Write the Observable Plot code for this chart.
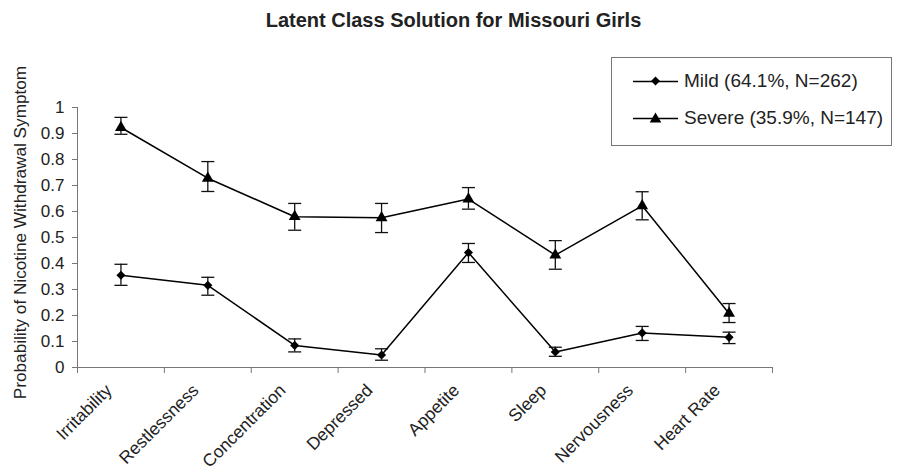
<!DOCTYPE html>
<html>
<head>
<meta charset="utf-8">
<script src="https://cdn.jsdelivr.net/npm/d3@7"></script>
<script src="https://cdn.jsdelivr.net/npm/@observablehq/plot@0.6"></script>
<style>
  html, body { margin: 0; padding: 0; background: #fff; }
  body { font-family: "Liberation Sans", Arial, sans-serif; color: #222; }
  #wrap { position: relative; width: 897px; height: 475px; overflow: hidden; }
  #title { position: absolute; left: 0; top: 10px; width: 907px; text-align: center; font-weight: bold; font-size: 20px; line-height: 20px; color: #222; }
  #chart { position: absolute; left: 0; top: 0; }
  #legend { position: absolute; left: 611px; top: 57px; width: 281px; height: 89px; border: 1px solid #777; box-sizing: border-box; background: #fff; }
  .item { position: absolute; left: 21px; height: 24px; display: flex; align-items: center; font-size: 19px; white-space: nowrap; color: #222; }
  .item svg { margin-right: 5px; }
  #chart svg g[aria-label="x-axis tick"] path, #chart svg g[aria-label="y-axis tick"] path { stroke: #777; }
</style>
</head>
<body>
<div id="wrap">
  <div id="chart"></div>
  <div id="title"></div>
  <div id="legend"></div>
</div>
<script>
const titleText = "Latent Class Solution for Missouri Girls";
const yLabel = "Probability of Nicotine Withdrawal Symptom";
const categories = ["Irritability", "Restlessness", "Concentration", "Depressed", "Appetite", "Sleep", "Nervousness", "Heart Rate"];
const seriesNames = ["Mild (64.1%, N=262)", "Severe (35.9%, N=147)"];
const mildValues  = [0.355, 0.316, 0.085, 0.048, 0.442, 0.060, 0.133, 0.116];
const mildLower   = [0.316, 0.278, 0.060, 0.028, 0.404, 0.043, 0.104, 0.092];
const mildUpper   = [0.397, 0.347, 0.110, 0.072, 0.477, 0.078, 0.158, 0.136];
const severeValues = [0.923, 0.728, 0.580, 0.576, 0.648, 0.432, 0.622, 0.208];
const severeLower  = [0.897, 0.677, 0.528, 0.519, 0.609, 0.378, 0.568, 0.173];
const severeUpper  = [0.962, 0.792, 0.631, 0.631, 0.692, 0.488, 0.676, 0.246];
const yTicks = [0, 0.1, 0.2, 0.3, 0.4, 0.5, 0.6, 0.7, 0.8, 0.9, 1];

const rows = [];
categories.forEach((c, i) => {
  rows.push({cat: c, pos: i + 0.5, series: seriesNames[0], value: mildValues[i], lo: mildLower[i], hi: mildUpper[i]});
});
categories.forEach((c, i) => {
  rows.push({cat: c, pos: i + 0.5, series: seriesNames[1], value: severeValues[i], lo: severeLower[i], hi: severeUpper[i]});
});
const boundaries = d3.range(categories.length + 1);
const centers = categories.map((c, i) => i + 0.5);

const capSymbol = {
  draw(context, size) {
    const w = Math.sqrt(size) / 2;
    context.moveTo(-w, 0);
    context.lineTo(w, 0);
  }
};
const capSize = Math.sqrt(13 * 13 / Math.PI);

const symbolFor = s => s === seriesNames[0] ? "diamond2" : "triangle";

const chart = Plot.plot({
  width: 897,
  height: 475,
  marginLeft: 77,
  marginRight: 125,
  marginTop: 107,
  marginBottom: 108,
  style: {fontFamily: "'Liberation Sans', Arial, sans-serif", fontSize: "17px", color: "#222", background: "transparent"},
  x: {type: "linear", domain: [0, categories.length]},
  y: {domain: [0, 1]},
  marks: [
    Plot.ruleY([0], {stroke: "#777", strokeWidth: 1}),
    Plot.ruleX([0], {stroke: "#777", strokeWidth: 1}),
    Plot.axisX({ticks: boundaries, tickSize: 6, tickFormat: () => "", label: null}),
    Plot.axisX({ticks: centers, tickSize: 0, tickPadding: 20, dx: -12, tickRotate: -45, fontSize: 17.5,
      tickFormat: d => categories[Math.round(d - 0.5)], label: null}),
    Plot.axisY({ticks: yTicks, tickSize: 5, tickPadding: 8, tickFormat: d => String(+d.toFixed(1)), label: null}),
    Plot.text([yLabel], {text: d => d, frameAnchor: "left", textAnchor: "middle", rotate: -90, dx: -57, dy: -5, fontSize: 17.2, fill: "#222"}),
    Plot.ruleX(rows, {x: "pos", y1: "lo", y2: "hi", stroke: "#111", strokeWidth: 1.3}),
    Plot.dot(rows, {x: "pos", y: "lo", symbol: () => capSymbol, r: capSize, stroke: "#111", fill: "none", strokeWidth: 1.3}),
    Plot.dot(rows, {x: "pos", y: "hi", symbol: () => capSymbol, r: capSize, stroke: "#111", fill: "none", strokeWidth: 1.3}),
    Plot.line(rows, {x: "pos", y: "value", z: "series", stroke: "#000", strokeWidth: 1.5}),
    Plot.dot(rows, {x: "pos", y: "value", symbol: d => symbolFor(d.series), r: d => d.series === seriesNames[0] ? 4.1 : 4.4, fill: "#000", stroke: "none"})
  ],
  symbol: {type: "identity"},
  r: {type: "identity"}
});
document.getElementById("chart").appendChild(chart);
document.getElementById("title").textContent = titleText;

const legend = document.getElementById("legend");
seriesNames.forEach((name, k) => {
  const item = document.createElement("div");
  item.className = "item";
  item.style.top = (k === 0 ? 11 : 48) + "px";
  const sym = k === 0
    ? '<path d="M22.5,3.5L27,8L22.5,12.5L18,8Z" fill="#000"/>'
    : '<path d="M22.5,2.5L28.3,12.5L16.7,12.5Z" fill="#000"/>';
  item.innerHTML = '<svg width="46" height="16"><line x1="0" y1="8.5" x2="45" y2="8.5" stroke="#000" stroke-width="1.3"/>' + sym + '</svg><span></span>';
  item.querySelector("span").textContent = name;
  legend.appendChild(item);
});
</script>
</body>
</html>
